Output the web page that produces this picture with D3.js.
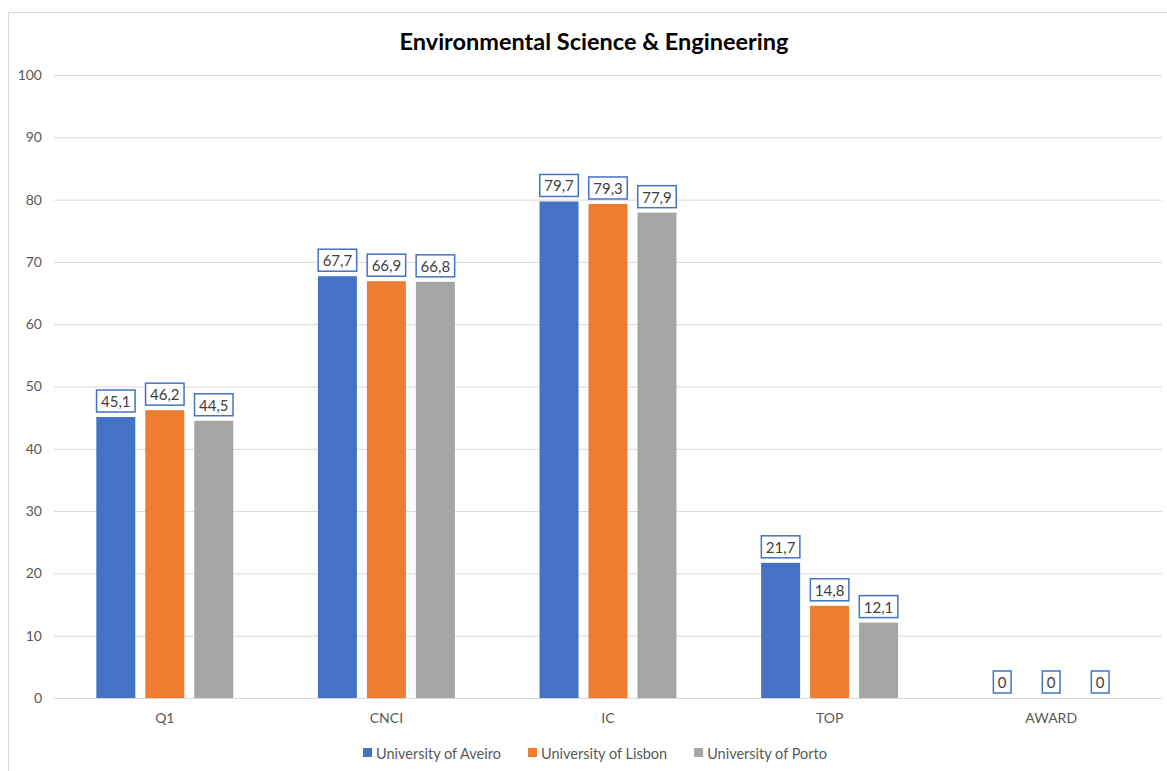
<!DOCTYPE html>
<html><head><meta charset="utf-8">
<script src="https://cdn.jsdelivr.net/npm/d3@7"></script>
<style>body{margin:0;background:#fff}svg{display:block}</style>
</head><body>
<svg id="c" width="1167" height="771"></svg>
<script>
const categories = ["Q1","CNCI","IC","TOP","AWARD"];
const seriesNames = ["University of Aveiro","University of Lisbon","University of Porto"];
const aveiro = [45.1,67.7,79.7,21.7,0];
const lisbon = [46.2,66.9,79.3,14.8,0];
const porto  = [44.5,66.8,77.9,12.1,0];
const yTicks = [0,10,20,30,40,50,60,70,80,90,100];
const colors = ["#4472C4","#ED7D31","#A5A5A5"];
const title = "Environmental Science & Engineering";

const series = [aveiro, lisbon, porto];
const font = "Lato, 'Open Sans', sans-serif";
const svg = d3.select("#c");
svg.append("rect").attr("x",8.5).attr("y",12.5).attr("width",1200).attr("height",800)
  .attr("fill","#fff").attr("stroke","#d9d9d9");

const L=54, R=1162, T=75, B=698;
const x = d3.scaleBand().domain(categories).range([L,R]).paddingInner(0.382).paddingOuter(0.191);
const xs = d3.scaleBand().domain(d3.range(3)).range([0,x.bandwidth()]).paddingInner(0.204).paddingOuter(0);
const y = d3.scaleLinear().domain([0,100]).range([B,T]);

const yAxis = d3.axisLeft(y).tickValues(yTicks).tickSize(-(R-L)).tickPadding(12);
const ga = svg.append("g").attr("transform",`translate(${L},0)`).call(yAxis);
ga.select(".domain").remove();
ga.selectAll(".tick line").attr("stroke","#d9d9d9").attr("stroke-width",1);
ga.selectAll(".tick text").attr("fill","#595959").style("font-family",font).style("font-size","14px");

const xAxis = d3.axisBottom(x).tickSize(0).tickPadding(15);
const gx = svg.append("g").attr("transform",`translate(0,${B})`).call(xAxis);
gx.select(".domain").remove();
gx.selectAll(".tick text").attr("fill","#595959").style("font-family",font).style("font-size","14px");

const data = [];
categories.forEach((c,i)=>series.forEach((s,j)=>data.push({c,j,v:s[i]})));

svg.append("g").selectAll("rect").data(data).join("rect")
  .attr("x",d=>x(d.c)+xs(d.j)).attr("width",xs.bandwidth())
  .attr("y",d=>y(d.v)).attr("height",d=>B-y(d.v)).attr("fill",d=>colors[d.j]);

const lg = svg.append("g");
data.forEach(d=>{
  const cx = x(d.c)+xs(d.j)+xs.bandwidth()/2;
  const label = String(d.v).replace(".",",");
  const t = lg.append("text").attr("x",cx).attr("y",y(d.v)-16).attr("text-anchor","middle")
    .attr("dominant-baseline","central").attr("fill","#404040")
    .style("font-family",font).style("font-size","15px").text(label);
  const w = t.node().getComputedTextLength();
  lg.insert("rect","text").attr("x",cx-w/2-4.5).attr("y",y(d.v)-27).attr("width",w+9).attr("height",22)
    .attr("fill","#fff").attr("stroke","#4472C4").attr("stroke-width",1.5);
});

svg.append("text").attr("x",594).attr("y",50).attr("text-anchor","middle")
  .style("font-family",font).style("font-size","23.5px").style("font-weight","bold").attr("fill","#000").text(title);

const leg = svg.append("g");
let lx = 363;
seriesNames.forEach((n,j)=>{
  leg.append("rect").attr("x",lx).attr("y",748).attr("width",9).attr("height",9).attr("fill",colors[j]);
  const t = leg.append("text").attr("x",lx+13).attr("y",753).attr("dominant-baseline","central")
    .attr("fill","#595959").style("font-family",font).style("font-size","14.5px").text(n);
  lx += 13 + t.node().getComputedTextLength() + 27;
});
</script>
</body></html>
